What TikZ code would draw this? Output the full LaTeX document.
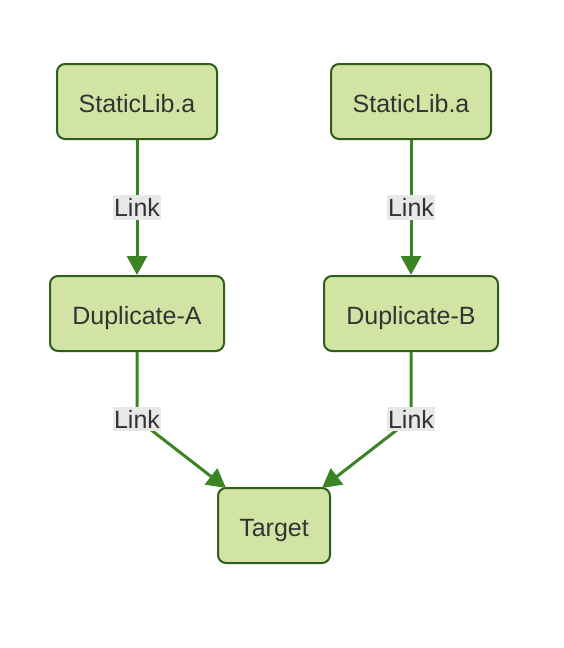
\documentclass[tikz,border=0pt]{standalone}
\usepackage{fontspec}
\setmainfont{Liberation Sans}
\usetikzlibrary{arrows.meta}

\definecolor{boxfill}{HTML}{D2E4A3}
\definecolor{boxline}{HTML}{2E5E1B}
\definecolor{edgegreen}{HTML}{3A8424}
\definecolor{linkbg}{HTML}{E8E8E8}
\definecolor{txtgray}{HTML}{333333}

\begin{document}
\begin{tikzpicture}[x=1pt, y=-1pt,
  box/.style={draw=boxline, fill=boxfill, line width=2pt, rounded corners=8pt,
    minimum height=75pt, text=txtgray, text height=21pt, text depth=0pt,
    font=\fontsize{25}{30}\selectfont},
  link/.style={draw=edgegreen, line width=3pt, -{Triangle[length=19pt, width=20pt]}},
  linklbl/.style={fill=linkbg, text=txtgray, inner xsep=1pt, inner ysep=3pt,
    font=\fontsize{25}{30}\selectfont}]
  \useasboundingbox (0,0) rectangle (564,648);

  % Libraries
  \node[box, minimum width=160pt] (libA) at (137,101.5) {StaticLib.a};
  \node[box, minimum width=160pt] (libB) at (411,101.5) {StaticLib.a};

  % Duplicates
  \node[box, minimum width=174pt] (dupA) at (137,313.5) {Duplicate-A};
  \node[box, minimum width=174pt] (dupB) at (411,313.5) {Duplicate-B};

  % Target
  \node[box, minimum width=112pt] (target) at (274,525.5) {Target};

  % Bend points and arrow ends
  \coordinate (bendA) at (137,419);
  \coordinate (bendB) at (411,419);
  \coordinate (inA) at (226,488);
  \coordinate (inB) at (322,488);

  % Links
  \draw[link] (libA) -- node[linklbl] (lnkA) {Link} (dupA);
  \draw[link] (libB) -- node[linklbl] (lnkB) {Link} (dupB);
  \draw[link] (dupA) -- (bendA) -- (inA);
  \draw[link] (dupB) -- (bendB) -- (inB);
  \node[linklbl] (lnkC) at (bendA) {Link};
  \node[linklbl] (lnkD) at (bendB) {Link};
\end{tikzpicture}
\end{document}
